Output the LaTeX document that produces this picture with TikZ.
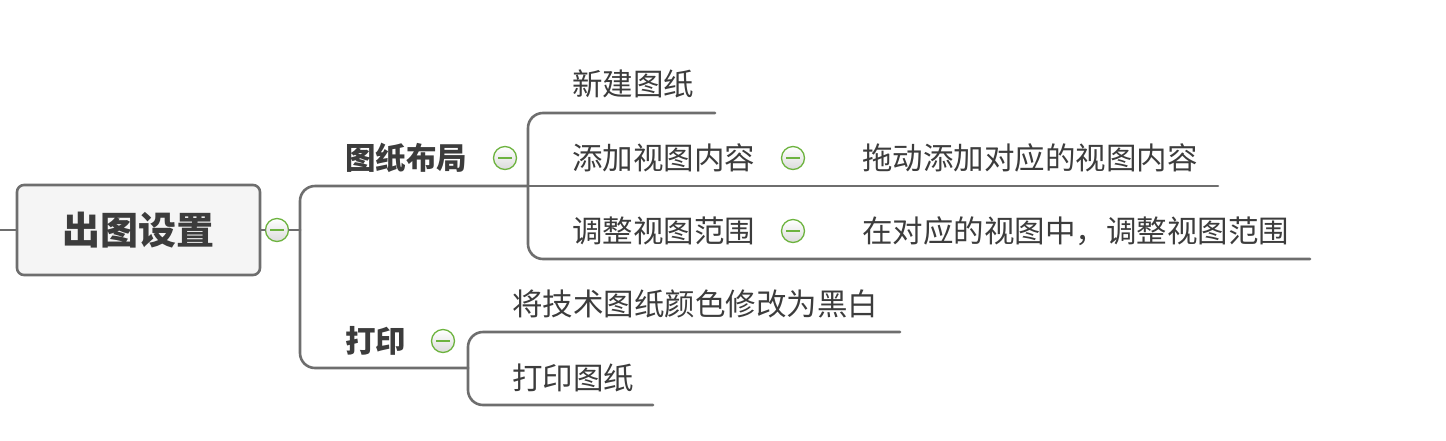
\documentclass[tikz,border=0pt]{standalone}
\usepackage{fontspec}
\setmainfont{Noto Sans CJK SC}
\definecolor{txt}{HTML}{3C3C3C}
\definecolor{ln}{HTML}{6E6E6E}
\definecolor{btngreen}{HTML}{6DB33F}
\definecolor{rootfill}{HTML}{F5F5F5}
\tikzset{
  conn/.style={draw=ln, line width=2.6pt, line cap=round},
  rc/.style={rounded corners=15pt},
  rootbox/.style={draw=ln, line width=2.6pt, fill=rootfill, rounded corners=7pt, minimum width=243pt, minimum height=90pt, inner sep=0pt, text=txt, font=\fontsize{38}{44}\selectfont\bfseries},
  mainlbl/.style={anchor=west, inner sep=0pt, text=txt, font=\fontsize{30.5}{36}\selectfont\bfseries},
  sublbl/.style={anchor=west, inner sep=0pt, text=txt, font=\fontsize{30.5}{36}\selectfont},
  btn/.style={circle, draw=btngreen, line width=1.3pt, top color=white, bottom color=black!14, minimum size=23pt, inner sep=0pt,
    path picture={\draw[btngreen, line width=1.5pt] ([xshift=-7pt]path picture bounding box.center) -- ([xshift=7pt]path picture bounding box.center);}}
}
\begin{document}
\begin{tikzpicture}[x=1pt, y=-1pt]
\useasboundingbox (0,0) rectangle (1446,440);
% root
\node[rootbox] (root) at (138.5,230) {出图设置};
\coordinate (lstub) at (0,230);
\node[btn] (b0) at (277,230) {};
\coordinate (f0) at (300,230);
% main topics
\node[mainlbl] (t1) at (345,158) {图纸布局};
\node[btn] (b1) at (505,158) {};
\node[mainlbl] (t2) at (345,341) {打印};
\node[btn] (b2) at (443,341) {};
\coordinate (f1) at (528,186);
\coordinate (f2) at (468,368);
% subtopics of t1
\node[sublbl] (s11) at (572,84) {新建图纸};
\node[sublbl] (s12) at (572,158) {添加视图内容};
\node[btn] (b12) at (793,158) {};
\node[sublbl] (s13) at (572,231) {调整视图范围};
\node[btn] (b13) at (793,231) {};
\node[sublbl] (c12) at (862,158) {拖动添加对应的视图内容};
\node[sublbl] (c13) at (862,231) {在对应的视图中，调整视图范围};
\coordinate (e11) at (715,113);
\coordinate (e12) at (1218,186);
\coordinate (e13) at (1310,259);
% subtopics of t2
\node[sublbl] (s21) at (512,304) {将技术图纸颜色修改为黑白};
\node[sublbl] (s22) at (512,378) {打印图纸};
\coordinate (e21) at (900,332);
\coordinate (e22) at (653,405);
% connectors
\draw[conn] (lstub) -- (root.west);
\draw[conn] (root.east) -- (b0.west);
\draw[conn] (b0.east) -- (f0);
\draw[conn, rc] (f0) |- (f1);
\draw[conn, rc] (f0) |- (f2);
\draw[conn, rc] (f1) |- (e11);
\draw[conn] (f1) -- (e12);
\draw[conn, rc] (f1) |- (e13);
\draw[conn, rc] (f2) |- (e21);
\draw[conn, rc] (f2) |- (e22);
\end{tikzpicture}
\end{document}
